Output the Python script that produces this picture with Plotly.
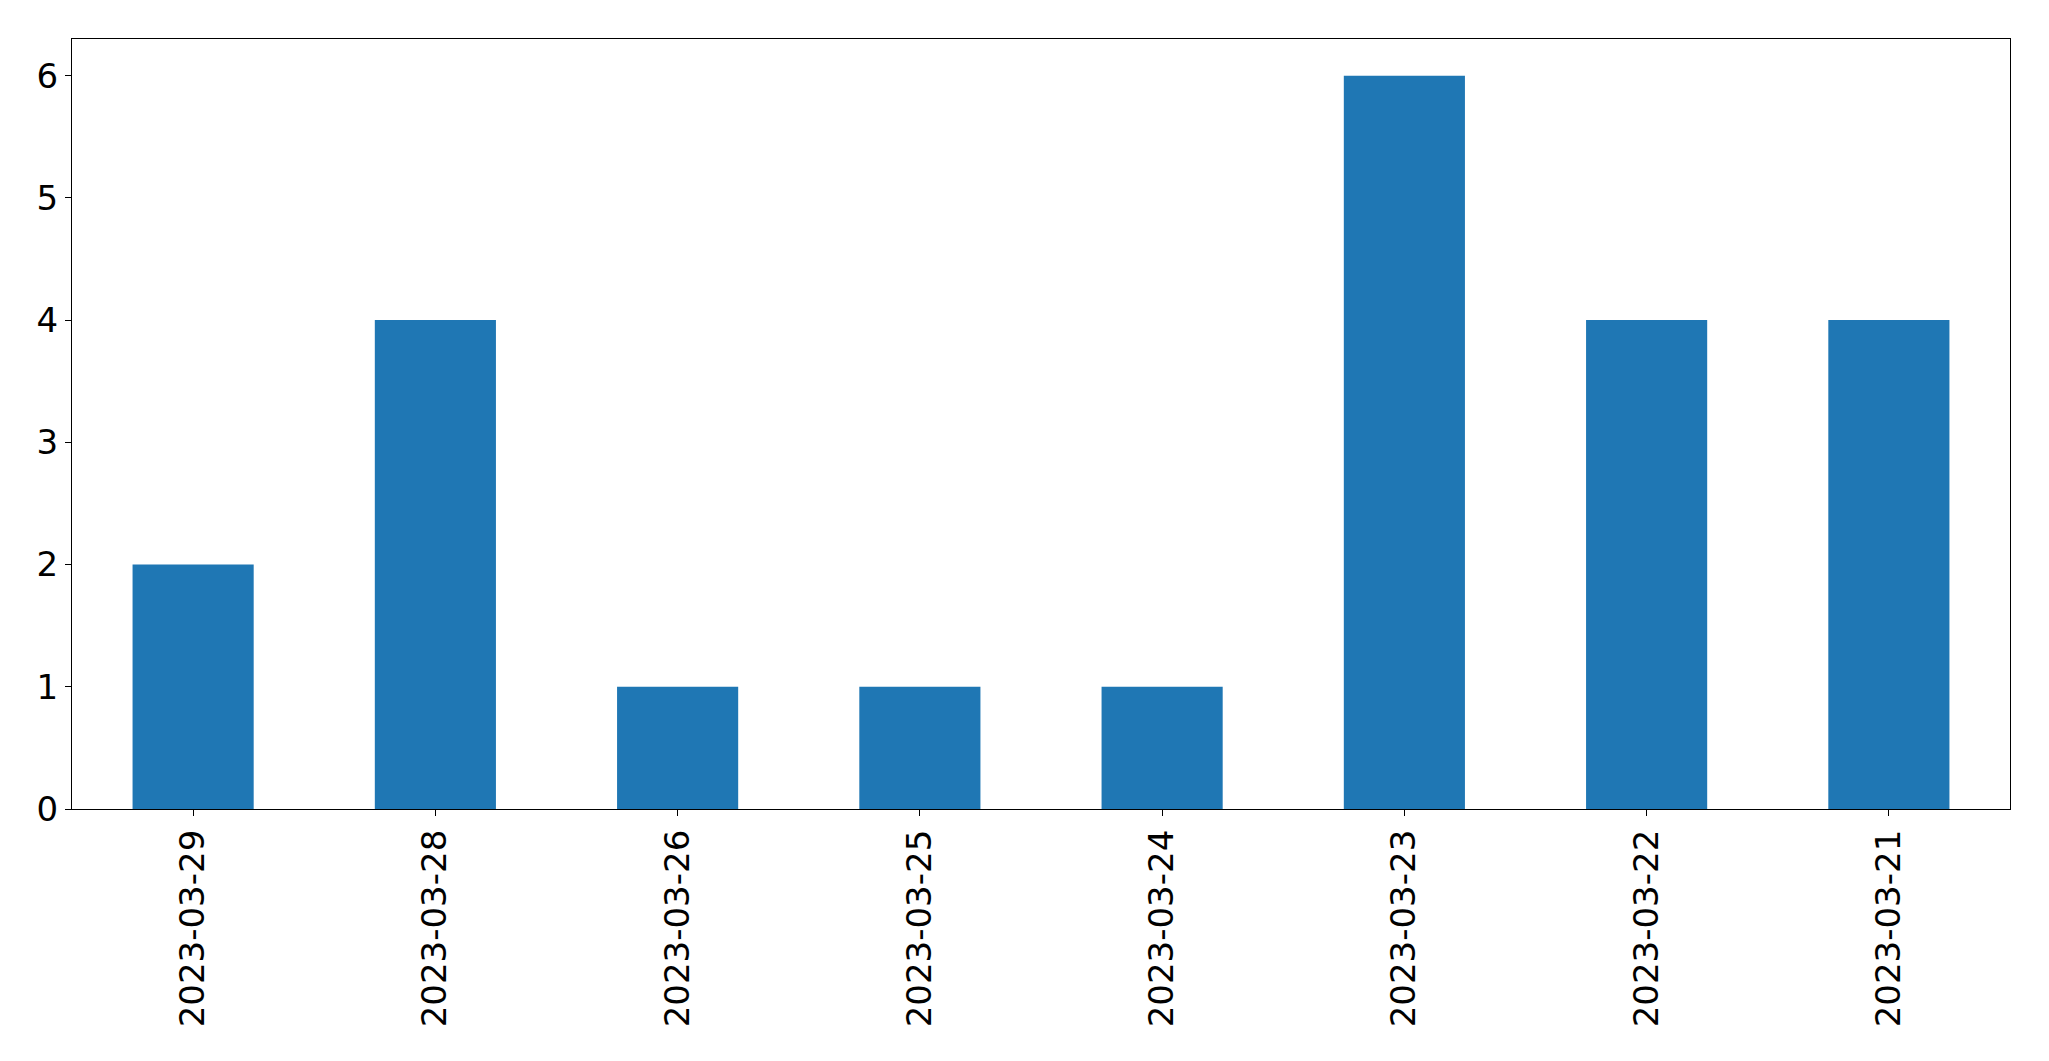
import plotly.graph_objects as go

dates = ["2023-03-29", "2023-03-28", "2023-03-26", "2023-03-25",
         "2023-03-24", "2023-03-23", "2023-03-22", "2023-03-21"]
counts = [2, 4, 1, 1, 1, 6, 4, 4]
y_ticks = [0, 1, 2, 3, 4, 5, 6]

fig = go.Figure(go.Bar(x=dates, y=counts, marker=dict(color="#1f77b4", line=dict(width=0)),
                       width=0.5))

axis_common = dict(showline=True, mirror=True, linecolor="black", linewidth=1.3,
                   ticks="outside", ticklen=6, tickwidth=1.3, tickcolor="black",
                   showgrid=False, zeroline=False,
                   tickfont=dict(family="DejaVu Sans", size=34, color="black"))

fig.update_layout(
    width=2049, height=1061,
    margin=dict(l=72, r=39, t=39, b=252, pad=0),
    paper_bgcolor="white", plot_bgcolor="white",
    showlegend=False,
    xaxis=dict(type="category", range=[-0.5, 7.5], tickangle=-90, **axis_common),
    yaxis=dict(range=[0, 6.3], tickvals=y_ticks, **axis_common),
    font=dict(family="DejaVu Sans"),
)

fig.write_html("out.html", config={"displayModeBar": False},
               post_script="document.body.style.margin='0';document.body.style.overflow='hidden';")
